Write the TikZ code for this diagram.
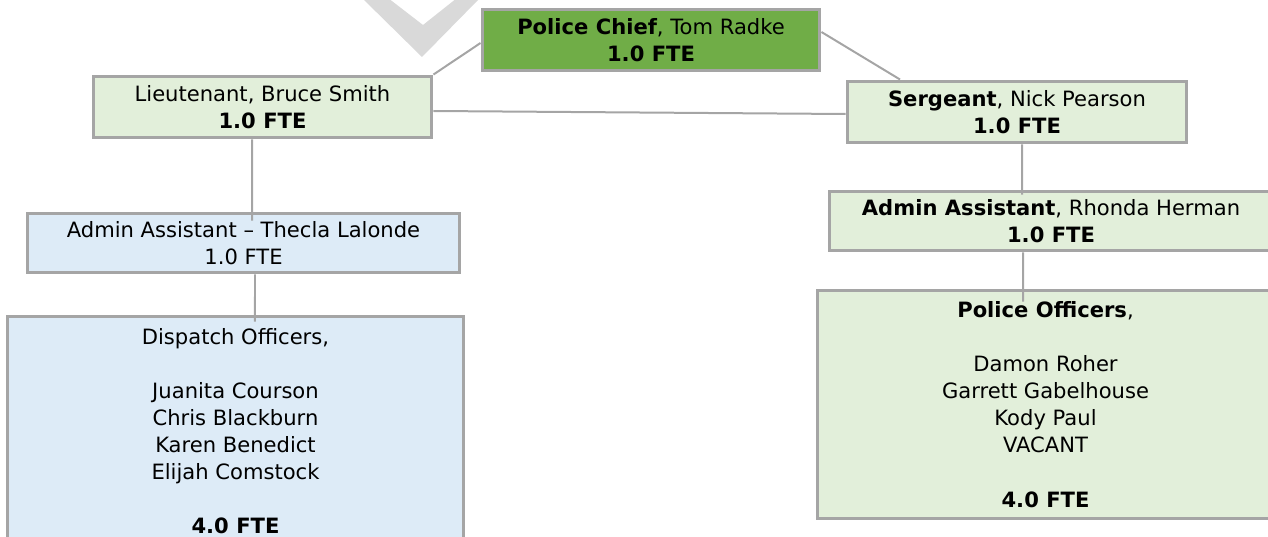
\documentclass[tikz,border=0pt]{standalone}
\usepackage{fontspec}
\setmainfont{DejaVu Sans}
\usetikzlibrary{calc,positioning}
\definecolor{boxgray}{HTML}{A5A5A5}
\definecolor{chiefgreen}{HTML}{70AD47}
\definecolor{palegreen}{HTML}{E2EFDA}
\definecolor{paleblue}{HTML}{DDEBF7}
\definecolor{markgray}{HTML}{D9D9D9}
\tikzset{
  post/.style={rectangle, draw=boxgray, line width=0.06cm, inner sep=0pt,
    align=center, font=\fontsize{12}{15.4}\selectfont},
  link/.style={draw=boxgray, line width=0.04cm},
}

\begin{document}
\begin{tikzpicture}[
  x=0.02cm, y=-0.02cm,
  green post/.style={post, fill=palegreen},
  blue post/.style={post, fill=paleblue}
]
  \clip (0,0) rectangle (1268,537);

  % Watermark
  \fill[markgray] (362,-2) -- (422,57) -- (480,-2) -- (457,-2) -- (423,25) -- (388,-2) -- cycle;

  % Top
  \node[post, fill=chiefgreen, minimum width=6.76cm, minimum height=1.24cm] (chief) at (651,40)
    {\textbf{Police Chief}, Tom Radke\\ \textbf{1.0 FTE}};

  % Second row
  \node[green post, minimum width=6.78cm, minimum height=1.24cm] (lt) at (262.5,107)
    {Lieutenant, Bruce Smith\\ \textbf{1.0 FTE}};
  \node[green post, minimum width=6.8cm, minimum height=1.24cm] (sgt) at (1017,112)
    {\textbf{Sergeant}, Nick Pearson\\ \textbf{1.0 FTE}};

  % Admin
  \node[blue post, minimum width=8.66cm, minimum height=1.2cm] (adminl) at (243.5,243)
    {Admin Assistant -- Thecla Lalonde\\ 1.0 FTE};
  \node[green post, minimum width=8.88cm, minimum height=1.2cm] (adminr) at (1051,221)
    {\textbf{Admin Assistant}, Rhonda Herman\\ \textbf{1.0 FTE}};

  % Staff
  \node[blue post, minimum width=9.14cm, minimum height=4.6cm] (dispatch) at (235.5,431)
    {Dispatch Officers,\\[15.4pt] Juanita Courson\\ Chris Blackburn\\ Karen Benedict\\
     Elijah Comstock\\[15.4pt] \textbf{4.0 FTE}};
  \node[green post, minimum width=9.14cm, minimum height=4.58cm] (officers) at (1045.5,404.5)
    {\textbf{Police Officers},\\[15.4pt] Damon Roher\\ Garrett Gabelhouse\\ Kody Paul\\
     VACANT\\[15.4pt] \textbf{4.0 FTE}};

  % Connections
  \draw[link] ([yshift=-0.06cm]chief.west) -- (lt.north east);
  \draw[link] ([yshift=0.16cm]chief.east) -- ([xshift=-2.34cm]sgt.north);
  \draw[link] ([yshift=-0.08cm]lt.east) -- ([yshift=-0.04cm]sgt.west);
  \draw[link, shorten >=-0.18cm] ([xshift=-0.21cm]lt.south) -- ([xshift=0.17cm]adminl.north);
  \draw[link, shorten >=-0.14cm] ([xshift=0.23cm]adminl.south) -- ([xshift=0.39cm]dispatch.north);
  \draw[link, shorten >=-0.1cm] ([xshift=0.1cm]sgt.south) -- ([xshift=-0.58cm]adminr.north);
  \draw[link, shorten >=-0.26cm] ([xshift=-0.56cm]adminr.south) -- ([xshift=-0.45cm]officers.north);
\end{tikzpicture}
\end{document}
